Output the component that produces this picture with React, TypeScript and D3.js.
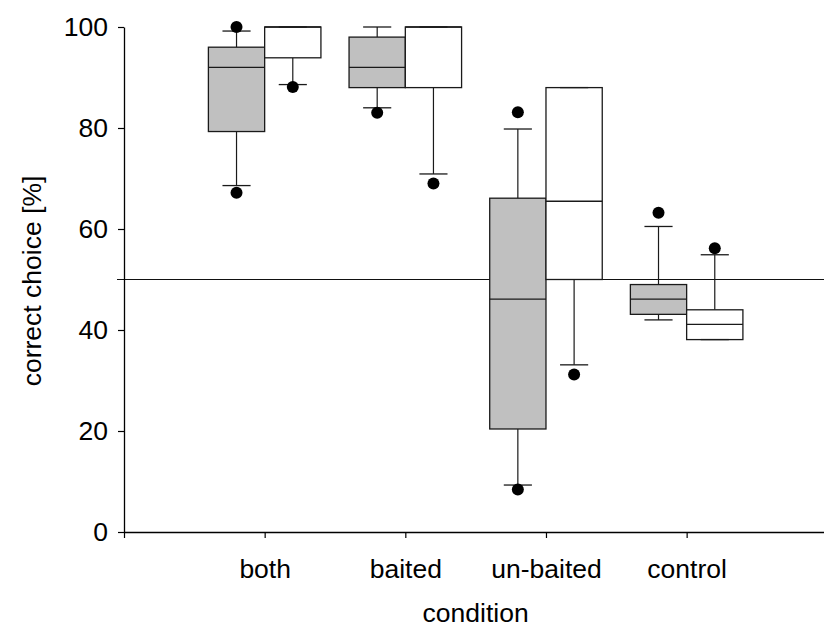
import React, { useEffect, useRef } from "react";
import * as d3 from "d3";

const categories = ["both", "baited", "un-baited", "control"];
const yTicks = [0, 20, 40, 60, 80, 100];

// grey series (left box of each pair)
const greyQ1 = [79.3, 88, 20.4, 43.1];
const greyMedian = [92, 92, 46.1, 46.1];
const greyQ3 = [96, 98, 66.1, 49];
const greyWhiskerLow = [68.6, 84, 9.3, 42];
const greyWhiskerHigh = [99.2, 100, 79.8, 60.5];
const greyOutliers = [[100, 67.2], [83], [83.1, 8.4], [63.2]];

// white series (right box of each pair)
const whiteQ1 = [93.9, 88, 50, 38.1];
const whiteMedian = [100, 100, 65.5, 41.1];
const whiteQ3 = [100, 100, 88, 44];
const whiteWhiskerLow = [88.6, 70.9, 33.1, 38.1];
const whiteWhiskerHigh = [100, 100, 88, 54.9];
const whiteOutliers = [[88.1], [69], [31.2], [56.2]];

const referenceLevel = 50;

const W = 824;
const H = 628;

export default function App() {
  const ref = useRef<SVGSVGElement>(null);

  useEffect(() => {
    const svg = d3.select(ref.current);
    svg.selectAll("*").remove();
    const font = "'Liberation Sans', Arial, sans-serif";
    const fs = 26.5;

    const x = d3.scaleLinear().domain([0, 5]).range([124, 827.3]);
    const y = d3.scaleLinear().domain([0, 100]).range([532, 27]);

    const boxW = 0.4;
    const capW = 0.2;

    // reference line
    svg
      .append("line")
      .attr("x1", 117)
      .attr("x2", x(5))
      .attr("y1", y(referenceLevel))
      .attr("y2", y(referenceLevel))
      .attr("stroke", "#111")
      .attr("stroke-width", 1.1);

    const series = [
      {
        q1: greyQ1, med: greyMedian, q3: greyQ3, wl: greyWhiskerLow, wh: greyWhiskerHigh,
        out: greyOutliers, fill: "#c0c0c0", offset: -boxW,
      },
      {
        q1: whiteQ1, med: whiteMedian, q3: whiteQ3, wl: whiteWhiskerLow, wh: whiteWhiskerHigh,
        out: whiteOutliers, fill: "#ffffff", offset: 0,
      },
    ];

    const g = svg.append("g");
    series.forEach((s) => {
      categories.forEach((_, i) => {
        const c = i + 1;
        const left = c + s.offset;
        const mid = left + boxW / 2;
        const stroke = "#1a1a1a";
        [
          [s.q3[i], s.wh[i]],
          [s.q1[i], s.wl[i]],
        ].forEach(([a, b]) => {
          if (a !== b) {
            g.append("line")
              .attr("x1", x(mid)).attr("x2", x(mid))
              .attr("y1", y(a)).attr("y2", y(b))
              .attr("stroke", stroke).attr("stroke-width", 1.2);
          }
        });
        g.append("rect")
          .attr("x", x(left))
          .attr("width", x(left + boxW) - x(left))
          .attr("y", y(s.q3[i]))
          .attr("height", y(s.q1[i]) - y(s.q3[i]))
          .attr("fill", s.fill)
          .attr("stroke", stroke)
          .attr("stroke-width", 1.3);
        g.append("line")
          .attr("x1", x(left)).attr("x2", x(left + boxW))
          .attr("y1", y(s.med[i])).attr("y2", y(s.med[i]))
          .attr("stroke", stroke).attr("stroke-width", 1.3);
        [s.wh[i], s.wl[i]].forEach((v) => {
          g.append("line")
            .attr("x1", x(mid - capW / 2)).attr("x2", x(mid + capW / 2))
            .attr("y1", y(v)).attr("y2", y(v))
            .attr("stroke", stroke).attr("stroke-width", 1.3);
        });
        s.out[i].forEach((v) => {
          g.append("circle")
            .attr("cx", x(mid)).attr("cy", y(v)).attr("r", 6)
            .attr("fill", "#000");
        });
      });
    });

    // axes
    const yAxis = d3
      .axisLeft(y)
      .tickValues(yTicks)
      .tickSize(6)
      .tickPadding(10)
      .tickSizeOuter(0);
    const ya = svg.append("g").attr("transform", `translate(${x(0)},0)`).call(yAxis);
    ya.select(".domain").attr("stroke", "#000").attr("stroke-width", 1.3);
    ya.selectAll(".tick line").attr("stroke", "#000").attr("stroke-width", 1.2);
    ya.selectAll("text")
      .attr("font-family", font)
      .attr("font-size", fs)
      .attr("fill", "#000");

    const xAxis = d3
      .axisBottom(x)
      .tickValues([0, 1, 2, 3, 4])
      .tickFormat((d) => (Number(d) >= 1 ? categories[Number(d) - 1] : ""))
      .tickSize(6)
      .tickPadding(21)
      .tickSizeOuter(0);
    const xa = svg.append("g").attr("transform", `translate(0,${y(0)})`).call(xAxis);
    xa.select(".domain").attr("stroke", "#000").attr("stroke-width", 1.3);
    xa.selectAll(".tick line").attr("stroke", "#000").attr("stroke-width", 1.2);
    xa.selectAll("text")
      .attr("font-family", font)
      .attr("font-size", fs)
      .attr("fill", "#000");

    // titles
    svg
      .append("text")
      .attr("x", (x(0) + x(5)) / 2)
      .attr("y", 622)
      .attr("text-anchor", "middle")
      .attr("font-family", font)
      .attr("font-size", fs)
      .text("condition");

    svg
      .append("text")
      .attr("transform", `translate(41,281) rotate(-90)`)
      .attr("text-anchor", "middle")
      .attr("font-family", font)
      .attr("font-size", fs)
      .text("correct choice [%]");
  }, []);

  return (
    <svg
      ref={ref}
      width={W}
      height={H}
      style={{ position: "absolute", left: 0, top: 0, background: "#fff" }}
    />
  );
}
